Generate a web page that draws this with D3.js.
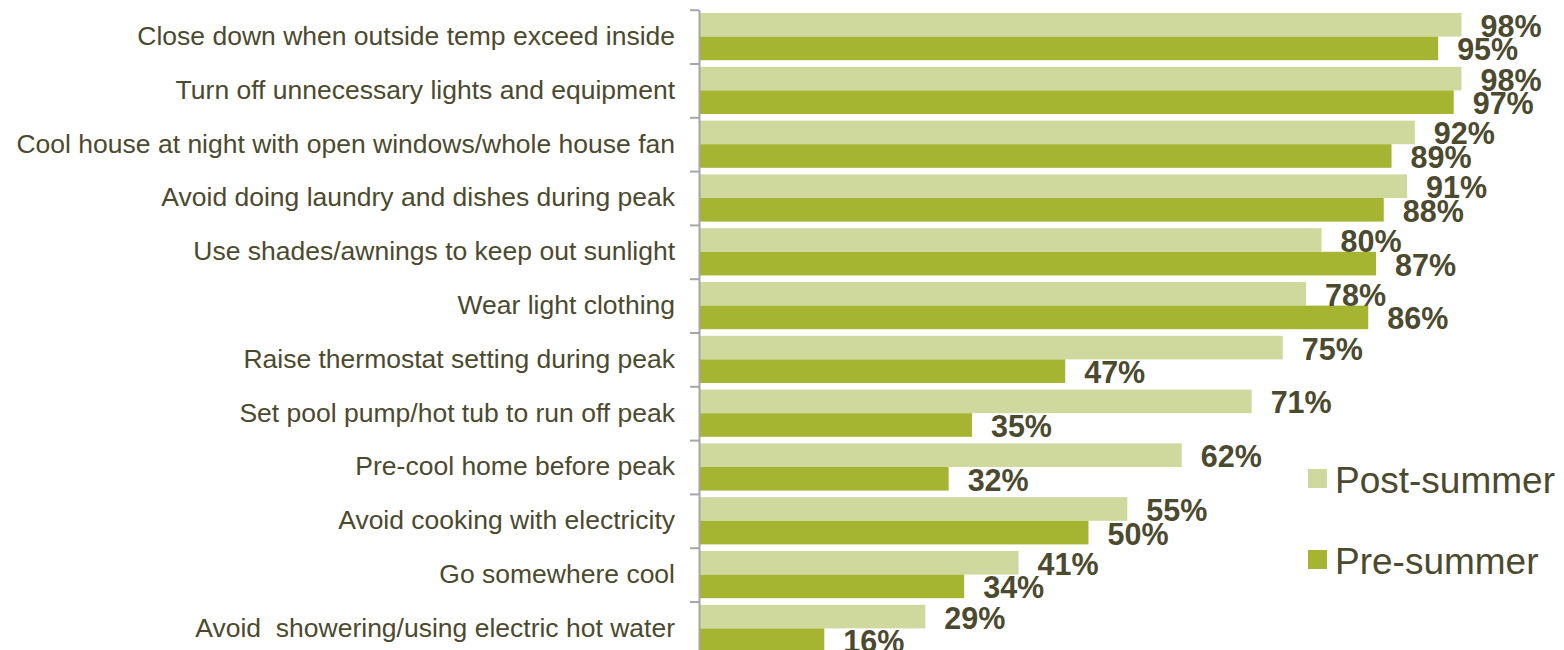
<!DOCTYPE html>
<html>
<head>
<meta charset="utf-8">
<script src="https://cdn.jsdelivr.net/npm/d3@7"></script>
<style>
  body { margin: 0; background: #fff; }
  svg { display: block; font-family: "Liberation Sans", Arial, sans-serif; }
  svg text { white-space: pre; }
</style>
</head>
<body>
<svg class="chart" width="1564" height="650"></svg>
<script>
const categories = [
  "Close down when outside temp exceed inside",
  "Turn off unnecessary lights and equipment",
  "Cool house at night with open windows/whole house fan",
  "Avoid doing laundry and dishes during peak",
  "Use shades/awnings to keep out sunlight",
  "Wear light clothing",
  "Raise thermostat setting during peak",
  "Set pool pump/hot tub to run off peak",
  "Pre-cool home before peak",
  "Avoid cooking with electricity",
  "Go somewhere cool",
  "Avoid  showering/using electric hot water"
];
const seriesNames = ["Post-summer", "Pre-summer"];
const postSummer = [98, 98, 92, 91, 80, 78, 75, 71, 62, 55, 41, 29];
const preSummer = [95, 97, 89, 88, 87, 86, 47, 35, 32, 50, 34, 16];
const colors = ["#cfd99e", "#a5b531"];
const textColor = "#4b4a2e";

(function drawChart() {
  const svg = d3.select("svg.chart");
  const axisX = 699;
  const top = 9.7, bottom = 655.3;

  const x = d3.scaleLinear().domain([0, 100]).range([axisX + 1, axisX + 778]);
  const y = d3.scaleBand().domain(categories).range([top, bottom]).padding(0);
  const yIdx = d3.scaleLinear().domain([0, categories.length]).range([top, bottom]);
  const sub = d3.scaleBand().domain(seriesNames).range([0, y.bandwidth()])
    .paddingInner(0).paddingOuter(0.14);

  const rows = categories.map((c, i) => ({ cat: c, values: [postSummer[i], preSummer[i]] }));

  const g = svg.append("g");

  const row = g.selectAll(".row")
    .data(rows)
    .enter().append("g")
    .attr("class", "row")
    .attr("transform", d => "translate(0," + y(d.cat) + ")");

  row.selectAll("rect")
    .data(d => d.values.map((v, j) => ({ name: seriesNames[j], v: v, j: j })))
    .enter().append("rect")
    .attr("x", x(0))
    .attr("y", d => sub(d.name))
    .attr("width", d => x(d.v) - x(0))
    .attr("height", sub.bandwidth())
    .attr("fill", d => colors[d.j]);

  row.selectAll("text.val")
    .data(d => d.values.map((v, j) => ({ name: seriesNames[j], v: v, j: j })))
    .enter().append("text")
    .attr("class", "val")
    .attr("x", d => x(d.v) + 19)
    .attr("y", d => sub(d.name) + sub.bandwidth() / 2 + 12)
    .attr("font-size", 30.5)
    .attr("font-weight", "bold")
    .attr("fill", textColor)
    .text(d => d.v + "%");

  // category labels
  const labelAxis = g.append("g")
    .attr("transform", "translate(" + axisX + ",0)")
    .call(d3.axisLeft(y).tickSize(0).tickPadding(24));
  labelAxis.select(".domain").remove();
  labelAxis.selectAll("text")
    .attr("font-size", 26.5)
    .attr("font-family", "'Liberation Sans', Arial, sans-serif")
    .attr("fill", textColor);

  // axis line with ticks between categories
  const tickAxis = g.append("g")
    .attr("transform", "translate(" + axisX + ",0)")
    .call(d3.axisLeft(yIdx).tickValues(d3.range(categories.length + 1)).tickSize(9).tickSizeOuter(0).tickFormat(""));
  tickAxis.select(".domain").attr("stroke", "#a6a6a6").attr("stroke-width", 2);
  tickAxis.selectAll(".tick line").attr("stroke", "#a6a6a6").attr("stroke-width", 2);

  // legend
  const legend = svg.append("g").attr("transform", "translate(1308,469)");
  const item = legend.selectAll(".item")
    .data(seriesNames)
    .enter().append("g")
    .attr("class", "item")
    .attr("transform", (d, i) => "translate(0," + i * 81 + ")");
  item.append("rect")
    .attr("width", 19).attr("height", 19)
    .attr("fill", (d, i) => colors[i]);
  item.append("text")
    .attr("x", 27).attr("y", 24)
    .attr("font-size", 37)
    .attr("fill", textColor)
    .text(d => d);
})();
</script>
</body>
</html>
